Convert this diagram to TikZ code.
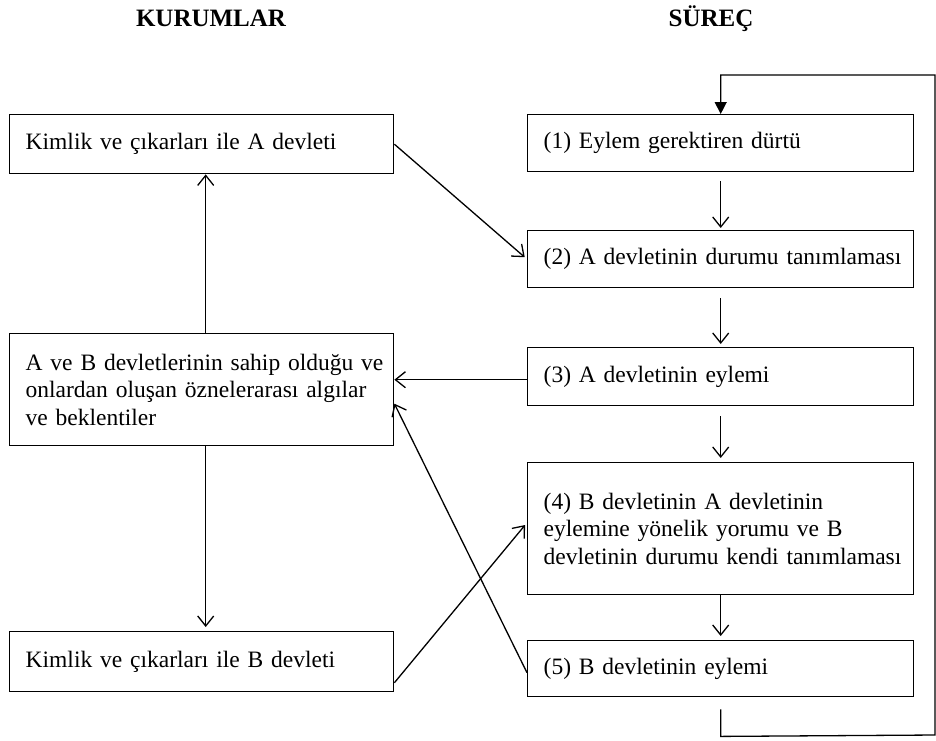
\documentclass[tikz,border=0pt]{standalone}
\usepackage{fontspec}
\setmainfont{Liberation Serif}[WordSpace=0.8]
\usetikzlibrary{arrows.meta,calc}
\begin{document}
\begin{tikzpicture}[x=1pt,y=-1pt,
  box/.style={draw, line width=1.4pt, rectangle, anchor=north west, inner xsep=16pt, inner ysep=0pt, align=left, font=\fontsize{23.5}{27.5}\selectfont},
  lbox/.style={box, minimum width=384pt, text width=352pt},
  rbox/.style={box, minimum width=386pt, text width=354pt},
  arr/.style={line width=1.3pt, -{Straight Barb[length=10pt,width=16pt,line width=1.3pt]}},
  looparr/.style={line width=1.3pt, -{Triangle[length=12pt,width=12pt]}},
  head/.style={font=\fontsize{25}{30}\selectfont\bfseries, anchor=base}]
\useasboundingbox (0,0) rectangle (936,740);
\node[head] (hK) at (211,26) {KURUMLAR};
\node[head] (hS) at (711,26) {SÜREÇ};
% left column
\node[lbox, minimum height=59pt] (L1) at (9,114) {\mbox{Kimlik ve çıkarları ile A devleti}};
\node[lbox, minimum height=112pt] (L2) at (9,333) {\mbox{A ve B devletlerinin sahip olduğu ve}\\\mbox{onlardan oluşan öznelerarası algılar}\\\mbox{ve beklentiler}};
\node[lbox, minimum height=60pt] (L3) at (9,631) {\mbox{Kimlik ve çıkarları ile B devleti}};
% right column
\node[rbox, minimum height=57pt] (R1) at (527,114) {\mbox{(1) Eylem gerektiren dürtü}};
\node[rbox, minimum height=57pt] (R2) at (527,230) {\mbox{(2) A devletinin durumu tanımlaması}};
\node[rbox, minimum height=58pt] (R3) at (527,347) {\mbox{(3) A devletinin eylemi}};
\node[rbox, minimum height=132pt] (R4) at (527,462) {\mbox{(4) B devletinin A devletinin}\\\mbox{eylemine yönelik yorumu ve B}\\\mbox{devletinin durumu kendi tanımlaması}};
\node[rbox, minimum height=56pt] (R5) at (527,640) {\mbox{(5) B devletinin eylemi}};
% right column arrows
\draw[arr, shorten <=9pt, shorten >=2pt] (R1.south) -- (R2.north);
\draw[arr, shorten <=10pt, shorten >=3pt] (R2.south) -- (R3.north);
\draw[arr, shorten <=10pt, shorten >=4pt] (R3.south) -- (R4.north);
\draw[arr, shorten >=4pt] (R4.south) -- (R5.north);
% left column arrows
\draw[arr] ([xshift=4pt]L2.north) -- ([xshift=4pt]L1.south);
\draw[arr, shorten >=4pt] ([xshift=4pt]L2.south) -- ([xshift=4pt]L3.north);
% cross arrows
\draw[arr, shorten >=3pt] (L1.east) -- (R2.west);
\draw[arr] ([yshift=-3pt]R3.west) -- ([yshift=-3pt]R3.west -| L2.east);
\draw[arr] ([yshift=-4pt]R5.west) -- ([yshift=-14pt]L2.east);
\draw[arr, shorten >=3pt] ([yshift=-21pt]L3.east) -- ([yshift=6pt]R4.west);
% feedback loop
\coordinate (lb) at ($(R5.south)+(0,39)$);
\coordinate (lr) at (935,735);
\coordinate (lt) at (935,75);
\draw[looparr] ($(R5.south)+(0,12)$) -- (lb) -- (lr) -- (lt) -- (R1.north |- lt) -- (R1.north);
\end{tikzpicture}
\end{document}
